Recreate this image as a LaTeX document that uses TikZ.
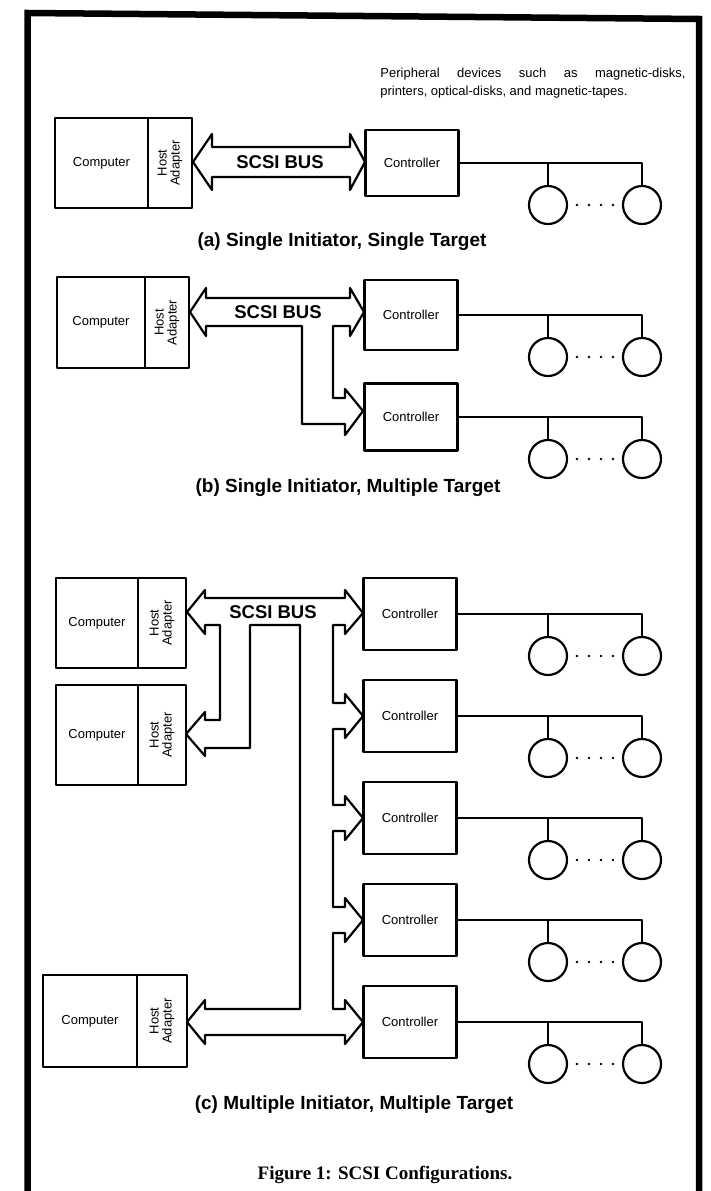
\documentclass[tikz,border=0pt]{standalone}
\usepackage{fontspec}
\setmainfont{Liberation Sans}
\newfontfamily\figserif{Liberation Serif}
\usetikzlibrary{calc}

\begin{document}
\begin{tikzpicture}[x=1pt,y=-1pt,line width=2.2pt,line join=round,
pc/.style ={rectangle, draw, inner sep=0pt, font=\fontsize{13}{13}\selectfont},
host/.style ={rectangle, draw, inner sep=0pt, rotate=90, align=center, font=\fontsize{13}{13}\selectfont},
ctl/.style ={rectangle, draw, inner sep=0pt, minimum width=93pt, minimum height=72pt, font=\fontsize{13}{13}\selectfont},
dsk/.style ={circle, draw, inner sep=0pt, minimum size=38pt},
lbl/.style ={font=\fontsize{18.5}{18.5}\selectfont\bfseries},
subcap/.style ={font=\fontsize{19}{19}\selectfont\bfseries}
]
\useasboundingbox (0,0) rectangle (710,1191);
\draw[line width=6.5pt, line join=miter] (27.5,1191) -- (27.5,13) -- (699,19) -- (699,1191);

\draw (376,83) node[anchor=west, align=left, font=\fontsize{13}{18}\selectfont] (note) {\makebox[305pt][s]{Peripheral devices such as magnetic-disks,}\\printers, optical-disks, and magnetic-tapes.};

% (a)
\draw (101.5,163) node[pc, minimum width=93pt, minimum height=90pt] (pcA) {Computer};
\draw (170,163) node[host, minimum width=90pt, minimum height=44pt] (haA) {Host\\Adapter};
\draw (412,163) node[ctl, minimum height=66pt] (ctlA) {Controller};
\draw (193,162) -- (212,134) -- (212,147) -- (350,147) -- (350,134) -- (365,162) -- (350,190) -- (350,177) -- (212,177) -- (212,190) -- cycle;
\draw (280,162) node[lbl] (busA) {SCSI BUS};
\draw (342,242) node[subcap] (capA) {(a) Single Initiator, Single Target};

% (b)
\draw (101,322.5) node[pc, minimum width=88pt, minimum height=91pt] (pcB) {Computer};
\draw (167,322.5) node[host, minimum width=91pt, minimum height=44pt] (haB) {Host\\Adapter};
\draw (411,315) node[ctl, minimum height=70pt] (ctlB1) {Controller};
\draw (411,417) node[ctl, minimum height=67pt] (ctlB2) {Controller};
\draw (190,312) -- (206,288) -- (206,298) -- (350,298) -- (350,288) -- (364,312) -- (350,336) -- (350,326) -- (333,326)
  -- (333,398) -- (345,398) -- (345,389) -- (363,411) -- (345,435) -- (345,424) -- (302,424) -- (302,326)
  -- (206,326) -- (206,336) -- cycle;
\draw (278,312) node[lbl] (busB) {SCSI BUS};
\draw (348,488) node[subcap] (capB) {(b) Single Initiator, Multiple Target};

% (c)
\draw (97,623) node[pc, minimum width=82pt, minimum height=90pt] (pcC1) {Computer};
\draw (162,623) node[host, minimum width=90pt, minimum height=48pt] (haC1) {Host\\Adapter};
\draw (97,735) node[pc, minimum width=82pt, minimum height=100pt] (pcC2) {Computer};
\draw (162,735) node[host, minimum width=100pt, minimum height=48pt] (haC2) {Host\\Adapter};
\draw (90,1021) node[pc, minimum width=94pt, minimum height=92pt] (pcC3) {Computer};
\draw (162,1021) node[host, minimum width=92pt, minimum height=50pt] (haC3) {Host\\Adapter};
\foreach \i/\y in {1/614,2/716,3/818,4/920,5/1022}
  \draw (410,\y) node[ctl] (ctlC\i) {Controller};
\draw (187,612) -- (205,590) -- (205,598) -- (345,598) -- (345,590) -- (363,613) -- (345,634) -- (345,625) -- (333,625)
  -- (333,703) -- (345,703) -- (345,694) -- (363,716) -- (345,738) -- (345,729) -- (333,729)
  -- (333,805) -- (345,805) -- (345,796) -- (363,818) -- (345,840) -- (345,831) -- (333,831)
  -- (333,907) -- (345,907) -- (345,898) -- (363,920) -- (345,942) -- (345,933) -- (333,933)
  -- (333,1009) -- (345,1009) -- (345,1000) -- (363,1022) -- (345,1044) -- (345,1035)
  -- (205,1035) -- (205,1044) -- (187,1022) -- (205,1000) -- (205,1009) -- (300,1009)
  -- (300,625) -- (250,625) -- (250,748) -- (205,748) -- (205,756) -- (186,734) -- (205,712) -- (205,720)
  -- (220,720) -- (220,625) -- (205,625) -- (205,634) -- cycle;
\draw (273,612) node[lbl] (busC) {SCSI BUS};
\draw (354,1105) node[subcap] (capC) {(c) Multiple Initiator, Multiple Target};

% disks on every controller
\foreach \c/\y in {A/163,B1/315,B2/417,C1/614,C2/716,C3/818,C4/920,C5/1022} {
  \draw (548,\y+42) node[dsk] (dsk\c L) {};
  \draw (642,\y+42) node[dsk] (dsk\c R) {};
  \draw (ctl\c.east) -| (dsk\c R.north);
  \draw (dsk\c L.north) -- (dsk\c L.north |- ctl\c.east);
  \foreach \x in {577,589,601,613} \fill (\x,\y+42) circle (1.3pt);
}

\draw (385,1175) node[font=\figserif\fontsize{19}{19}\selectfont\bfseries] (fig) {Figure 1: SCSI Configurations.};
\end{tikzpicture}
\end{document}
